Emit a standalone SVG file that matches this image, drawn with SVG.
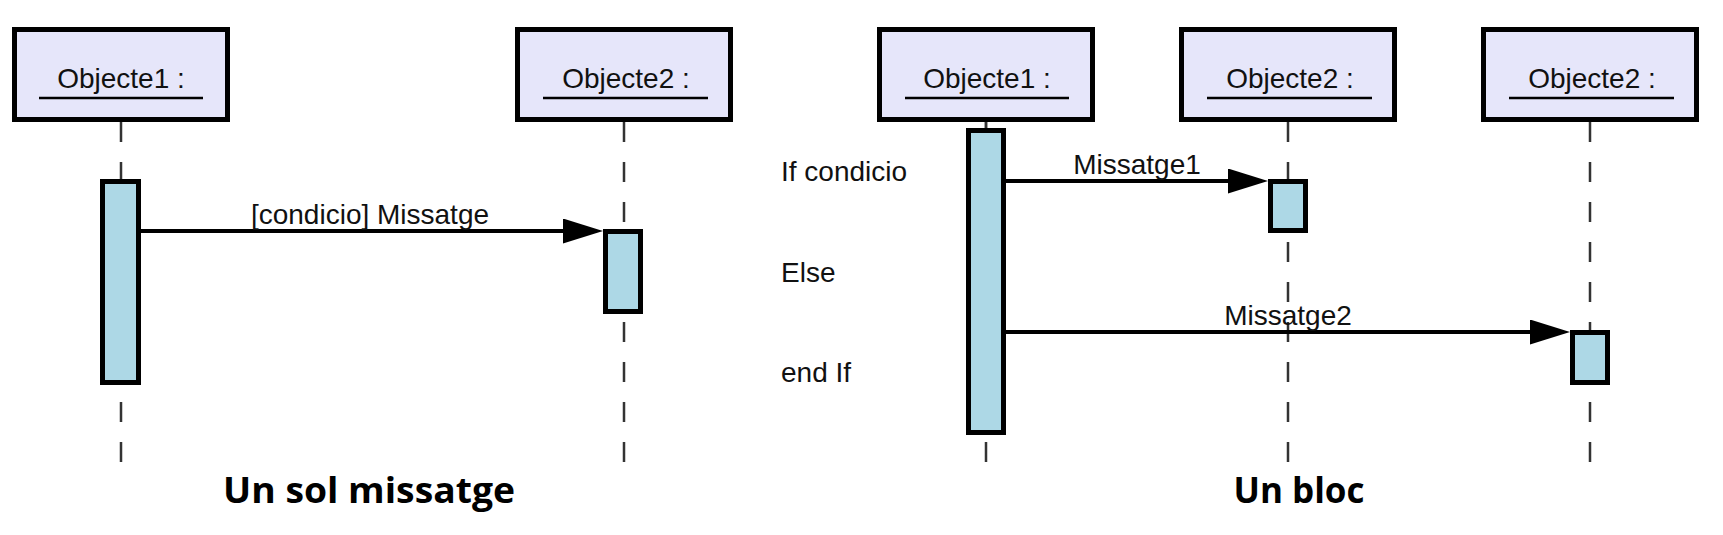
<svg xmlns="http://www.w3.org/2000/svg" width="1723" height="535" viewBox="0 0 1723 535">
<style>
.obj{fill:#E6E6FA;stroke:#000;stroke-width:5}
.act{fill:#ADD8E6;stroke:#000;stroke-width:5}
.life{stroke:#333;stroke-width:2.5;stroke-dasharray:20 20;fill:none}
.ul{stroke:#000;stroke-width:2.5}
.lbl{font-family:"Liberation Sans",Arial,sans-serif;font-size:28px;fill:#111}
.c{text-anchor:middle}
.msg{stroke:#000;stroke-width:4;fill:none;marker-end:url(#ah)}
.title{font-family:"Open Sans","Noto Sans",sans-serif;font-weight:bold;font-size:35px;fill:#000;text-anchor:middle}
</style>
<defs>
<marker id="ah" viewBox="0 0 40 25" refX="30" refY="12.5" markerWidth="40" markerHeight="25" markerUnits="userSpaceOnUse" orient="auto">
<polygon points="0,0 40,12.5 0,25" fill="#000"/>
</marker>
</defs>
<rect width="1723" height="535" fill="#fff"/>

<g id="lifelines">
<line class="life" x1="121" y1="122" x2="121" y2="463"/>
<line class="life" x1="624" y1="122" x2="624" y2="463"/>
<line class="life" x1="986" y1="122" x2="986" y2="463"/>
<line class="life" x1="1288" y1="122" x2="1288" y2="463"/>
<line class="life" x1="1590" y1="122" x2="1590" y2="463"/>
</g>

<g id="left-obj1">
<rect class="obj" x="14.5" y="29.5" width="213" height="90"/>
<text class="lbl c" x="121" y="88">Objecte1 :</text>
<line class="ul" x1="39" y1="98" x2="203" y2="98"/>
</g>
<g id="left-obj2">
<rect class="obj" x="517.5" y="29.5" width="213" height="90"/>
<text class="lbl c" x="626" y="88">Objecte2 :</text>
<line class="ul" x1="543" y1="98" x2="708" y2="98"/>
</g>
<g id="left-act1"><rect class="act" x="102.5" y="181.5" width="36" height="201"/></g>
<g id="left-act2"><rect class="act" x="605.5" y="231.5" width="35" height="80"/></g>

<g id="right-obj1">
<rect class="obj" x="879.5" y="29.5" width="213" height="90"/>
<text class="lbl c" x="987" y="88">Objecte1 :</text>
<line class="ul" x1="905" y1="98" x2="1069" y2="98"/>
</g>
<g id="right-obj2">
<rect class="obj" x="1181.5" y="29.5" width="213" height="90"/>
<text class="lbl c" x="1290" y="88">Objecte2 :</text>
<line class="ul" x1="1207" y1="98" x2="1372" y2="98"/>
</g>
<g id="right-obj3">
<rect class="obj" x="1483.5" y="29.5" width="213" height="90"/>
<text class="lbl c" x="1592" y="88">Objecte2 :</text>
<line class="ul" x1="1509" y1="98" x2="1674" y2="98"/>
</g>
<line x1="986" y1="122" x2="986" y2="130" stroke="#333" stroke-width="2.5"/>
<g id="right-act1"><rect class="act" x="968.5" y="130.5" width="35" height="302"/></g>
<g id="right-act2"><rect class="act" x="1270.5" y="181.5" width="35" height="49"/></g>
<g id="right-act3"><rect class="act" x="1572.5" y="332.5" width="35" height="50"/></g>

<g id="connectors">
<line class="msg" x1="141" y1="231" x2="593" y2="231"/>
<line class="msg" x1="1006" y1="181" x2="1258" y2="181"/>
<line class="msg" x1="1006" y1="332" x2="1560" y2="332"/>
<text class="lbl c" x="370" y="224">[condicio] Missatge</text>
<text class="lbl c" x="1137" y="174">Missatge1</text>
<text class="lbl c" x="1288" y="325">Missatge2</text>
</g>

<g id="notes">
<text class="lbl" x="781" y="181">If condicio</text>
<text class="lbl" x="781" y="282">Else</text>
<text class="lbl" x="781" y="382">end If</text>
</g>

<g id="titles">
<text class="title" x="369" y="503" textLength="292" lengthAdjust="spacingAndGlyphs">Un sol missatge</text>
<text class="title" x="1299" y="503">Un bloc</text>
</g>
</svg>
